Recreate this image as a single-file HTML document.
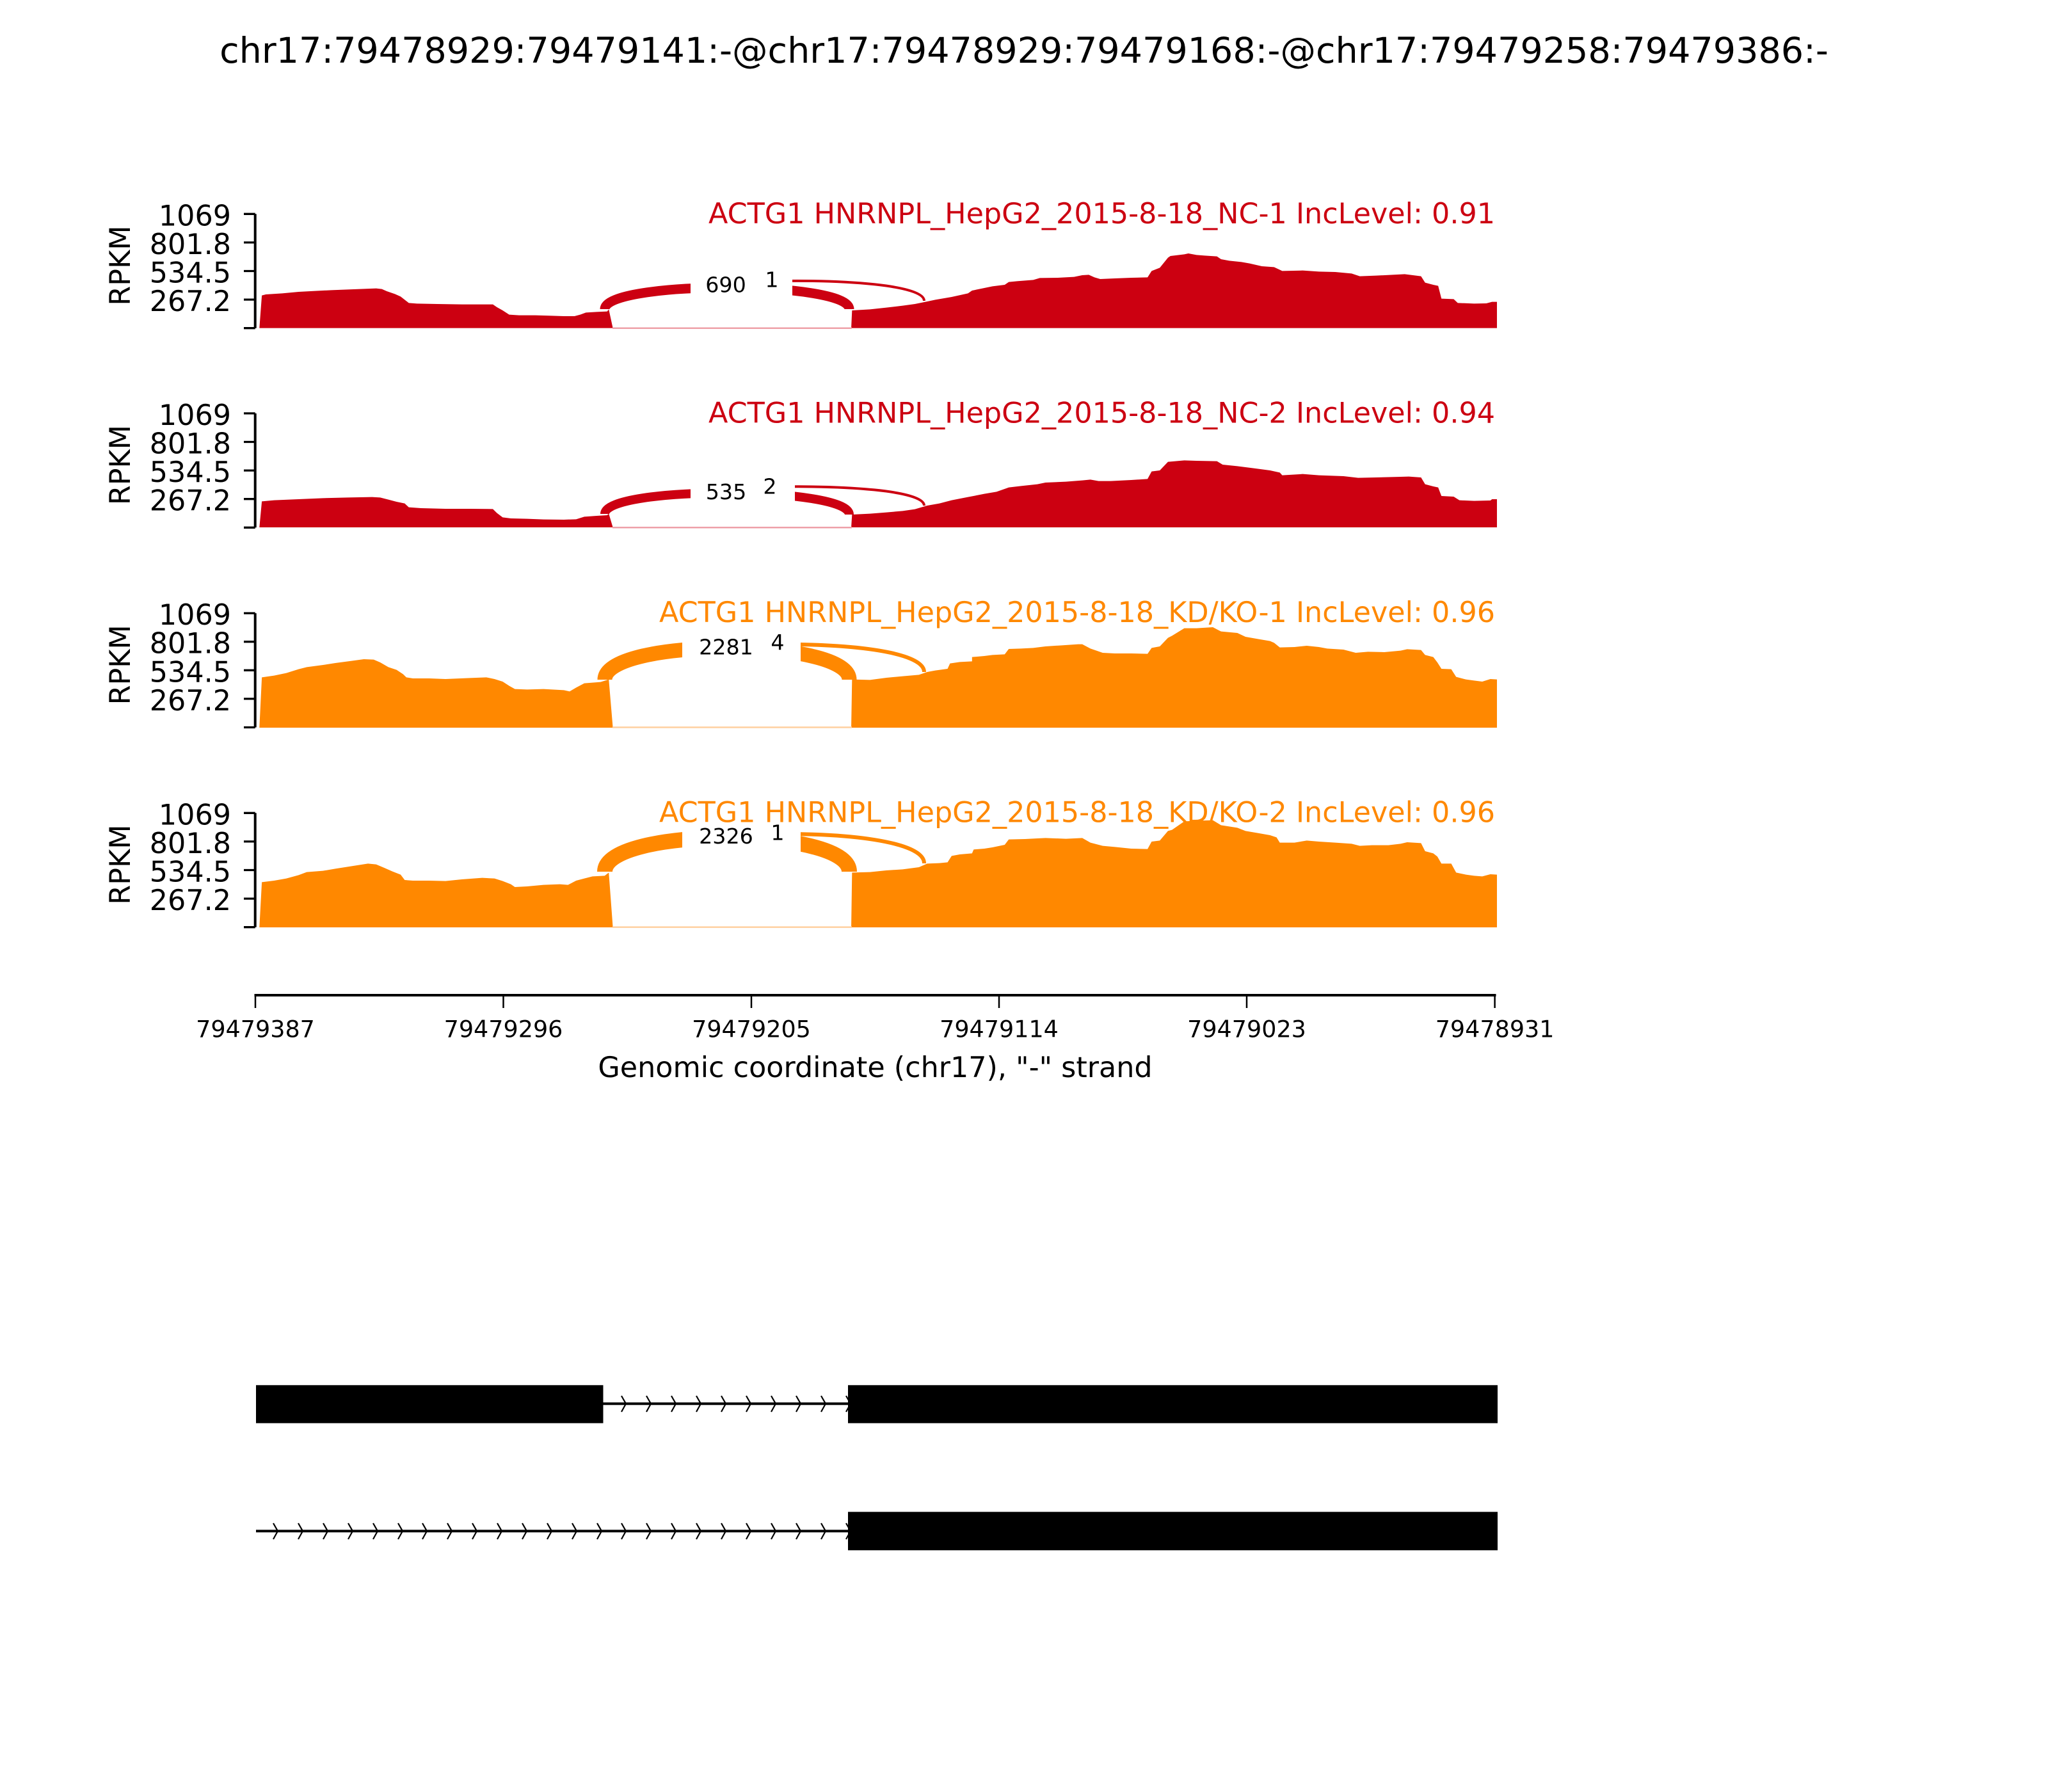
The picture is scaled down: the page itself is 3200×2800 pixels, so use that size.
<!DOCTYPE html>
<html><head><meta charset="utf-8"><style>
html,body{margin:0;padding:0;background:#fff;}
svg{display:block;}
text{font-family:"DejaVu Sans","Liberation Sans",sans-serif;}
</style></head><body>
<svg xmlns="http://www.w3.org/2000/svg" width="3200" height="2800" viewBox="0 0 3200 2800">
<rect width="3200" height="2800" fill="#fff"/>
<text x="1600" y="98" font-size="55.56" text-anchor="middle" fill="#000">chr17:79478929:79479141:-@chr17:79478929:79479168:-@chr17:79479258:79479386:-</text>

<!-- ============ PANEL 1 ============ -->
<g transform="translate(390,310) scale(1.27551,0.33333)" fill="#CC0011">
<polygon points="12,608 15,455 20,450 40,445 60,438 80,434 100,430 120,427 140,424 155,422 162,425 168,435 178,448 185,460 190,475 195,490 205,493 230,495 260,497 298,497 303,510 310,525 318,545 330,548 350,548 370,550 385,552 398,552 405,545 412,535 425,532 438,530 440,520 445,608"/>
<polygon points="737,608 738,525 760,520 780,512 800,503 815,495 828,485 840,475 860,462 880,445 885,432 900,420 910,412 925,405 930,392 940,388 960,382 968,373 990,372 1010,368 1020,360 1028,358 1035,370 1042,378 1060,375 1080,372 1100,370 1105,340 1115,325 1125,278 1128,270 1145,262 1150,258 1160,265 1170,268 1185,272 1190,285 1200,292 1215,298 1225,305 1240,318 1255,322 1265,340 1290,338 1310,343 1330,345 1350,352 1360,365 1380,362 1400,358 1415,355 1425,360 1435,365 1440,395 1450,405 1456,410 1460,470 1475,472 1480,490 1500,493 1515,492 1522,485 1528,485 1528,608"/>
</g>
<rect x="957" y="511.5" width="374" height="2.5" fill="#eea0a8"/>
<path d="M945,483 C945,433.7 1444,420.7 1444,470" fill="none" stroke="#CC0011" stroke-width="4"/>
<path d="M945,483 C945,438.2 1327,438.2 1327,483" fill="none" stroke="#CC0011" stroke-width="15"/>
<rect x="1079" y="415" width="159" height="55" fill="#fff"/>
<text x="1134" y="456.7" font-size="33.3" text-anchor="middle">690</text>
<text x="1206" y="448.3" font-size="33.3" text-anchor="middle">1</text>
<text x="2336" y="349" font-size="44.44" text-anchor="end" fill="#CC0011">ACTG1 HNRNPL_HepG2_2015-8-18_NC-1 IncLevel: 0.91</text>
<g stroke="#000" fill="none">
<line x1="398.7" y1="334.3" x2="398.7" y2="512.7" stroke-width="4"/>
<path d="M381,334.3H398.7M381,378.9H398.7M381,423.5H398.7M381,468.1H398.7M381,512.7H398.7" stroke-width="3.3"/>
</g>
<g font-size="44.44" text-anchor="end">
<text x="361" y="352.3">1069</text><text x="361" y="396.9">801.8</text><text x="361" y="441.5">534.5</text><text x="361" y="486.1">267.2</text>
</g>
<text transform="translate(203,415) rotate(-90)" font-size="44.44" text-anchor="middle">RPKM</text>

<!-- ============ PANEL 2 ============ -->
<g transform="translate(390,620) scale(1.27551,0.33333)" fill="#CC0011">
<polygon points="12,612 15,490 30,485 60,480 90,475 120,472 150,470 160,472 170,482 180,492 190,500 195,518 210,522 240,525 270,525 298,526 303,545 310,565 320,570 340,572 360,575 385,576 400,574 410,562 425,558 438,555 440,548 445,612"/>
<polygon points="737,612 738,552 760,548 780,542 800,535 815,527 830,510 845,500 860,485 880,470 900,455 915,445 930,425 945,418 965,410 975,402 1000,398 1020,392 1030,388 1040,395 1055,395 1080,390 1100,385 1105,350 1115,345 1125,305 1145,298 1160,300 1185,302 1192,318 1210,325 1230,335 1250,345 1262,355 1265,368 1290,362 1310,368 1340,372 1358,380 1380,378 1410,375 1420,374 1435,378 1440,410 1450,420 1456,425 1460,465 1475,468 1482,485 1500,488 1520,486 1522,480 1528,480 1528,612"/>
</g>
<rect x="957" y="823" width="374" height="2.5" fill="#eea0a8"/>
<path d="M945,803 C945,755.7 1444,742.7 1444,790" fill="none" stroke="#CC0011" stroke-width="4"/>
<path d="M945,803 C945,758.6 1327,759.6 1327,804" fill="none" stroke="#CC0011" stroke-width="14"/>
<rect x="1079" y="735" width="163" height="58" fill="#fff"/>
<text x="1134.5" y="780" font-size="33.3" text-anchor="middle">535</text>
<text x="1203" y="771.7" font-size="33.3" text-anchor="middle">2</text>
<text x="2336" y="660.7" font-size="44.44" text-anchor="end" fill="#CC0011">ACTG1 HNRNPL_HepG2_2015-8-18_NC-2 IncLevel: 0.94</text>
<g stroke="#000" fill="none">
<line x1="398.7" y1="645.9" x2="398.7" y2="824.3" stroke-width="4"/>
<path d="M381,645.9H398.7M381,690.5H398.7M381,735.1H398.7M381,779.7H398.7M381,824.3H398.7" stroke-width="3.3"/>
</g>
<g font-size="44.44" text-anchor="end">
<text x="361" y="663.9">1069</text><text x="361" y="708.5">801.8</text><text x="361" y="753.1">534.5</text><text x="361" y="797.7">267.2</text>
</g>
<text transform="translate(203,726.6) rotate(-90)" font-size="44.44" text-anchor="middle">RPKM</text>

<!-- ============ PANEL 3 ============ -->
<g transform="translate(390,935) scale(1.27551,0.33333)" fill="#FF8800">
<polygon points="12,606 15,370 30,362 45,350 60,332 70,322 90,312 105,303 125,293 140,285 152,287 160,300 170,322 180,335 188,355 192,370 200,375 220,375 240,378 270,373 290,370 300,378 310,390 318,410 325,425 340,427 360,425 385,430 392,436 400,418 410,398 420,395 430,392 440,380 445,606"/>
<polygon points="737,606 738,380 760,382 780,372 800,365 820,358 830,345 840,338 855,330 858,305 870,298 885,295 885,275 900,270 910,265 925,262 930,237 945,235 960,232 975,225 995,220 1015,215 1020,215 1030,235 1045,255 1060,258 1080,258 1100,260 1105,232 1115,225 1125,185 1130,175 1145,140 1160,140 1180,135 1190,155 1210,162 1220,180 1235,190 1250,200 1255,208 1262,230 1280,228 1295,222 1310,228 1320,235 1340,240 1355,255 1370,250 1390,252 1410,245 1418,238 1435,242 1440,265 1450,275 1455,300 1460,330 1472,332 1478,368 1490,380 1500,385 1510,390 1520,378 1528,380 1528,606"/>
</g>
<rect x="957" y="1135.2" width="374" height="2.5" fill="#ffd0a0"/>
<path d="M945,1062 C945,997 1444,985 1444,1050" fill="none" stroke="#FF8800" stroke-width="6"/>
<path d="M945,1062 C945,996 1327,996 1327,1062" fill="none" stroke="#FF8800" stroke-width="23"/>
<rect x="1066" y="977" width="185" height="62" fill="#fff"/>
<text x="1134.5" y="1022.3" font-size="33.3" text-anchor="middle">2281</text>
<text x="1215" y="1015" font-size="33.3" text-anchor="middle">4</text>
<text x="2336" y="972" font-size="44.44" text-anchor="end" fill="#FF8800">ACTG1 HNRNPL_HepG2_2015-8-18_KD/KO-1 IncLevel: 0.96</text>
<g stroke="#000" fill="none">
<line x1="398.7" y1="958.1" x2="398.7" y2="1136.5" stroke-width="4"/>
<path d="M381,958.1H398.7M381,1002.7H398.7M381,1047.3H398.7M381,1091.9H398.7M381,1136.5H398.7" stroke-width="3.3"/>
</g>
<g font-size="44.44" text-anchor="end">
<text x="361" y="976.1">1069</text><text x="361" y="1020.7">801.8</text><text x="361" y="1065.3">534.5</text><text x="361" y="1109.9">267.2</text>
</g>
<text transform="translate(203,1038.8) rotate(-90)" font-size="44.44" text-anchor="middle">RPKM</text>

<!-- ============ PANEL 4 ============ -->
<g transform="translate(390,1250) scale(1.27551,0.33333)" fill="#FF8800">
<polygon points="12,597 15,385 30,378 45,368 60,352 70,338 90,332 105,322 125,310 145,298 155,302 165,318 175,335 185,350 190,375 200,378 220,378 240,380 260,372 285,365 300,368 310,380 320,395 325,408 340,405 360,398 380,395 390,398 400,378 410,368 420,358 435,355 440,340 445,597"/>
<polygon points="737,597 738,340 760,338 780,330 800,325 820,315 830,298 845,296 855,292 860,262 870,255 885,250 887,232 900,228 910,222 925,210 930,185 950,183 965,180 975,178 1000,182 1020,178 1030,200 1045,215 1060,220 1080,228 1100,230 1105,195 1115,190 1125,145 1130,140 1145,100 1160,97 1180,95 1190,118 1210,130 1220,145 1235,155 1250,165 1258,175 1262,200 1280,200 1295,190 1310,195 1330,200 1350,205 1360,215 1375,212 1395,212 1410,205 1418,198 1435,202 1440,240 1450,250 1455,265 1460,298 1472,298 1478,340 1490,350 1500,355 1510,358 1520,348 1528,350 1528,597"/>
</g>
<rect x="957" y="1447.4" width="374" height="2.5" fill="#ffd0a0"/>
<path d="M945,1362 C945,1292.7 1444,1279.7 1444,1349" fill="none" stroke="#FF8800" stroke-width="6"/>
<path d="M945,1362 C945,1291.2 1327,1291.2 1327,1362" fill="none" stroke="#FF8800" stroke-width="24"/>
<rect x="1066" y="1273" width="185" height="62" fill="#fff"/>
<text x="1134.5" y="1318" font-size="33.3" text-anchor="middle">2326</text>
<text x="1215" y="1312.7" font-size="33.3" text-anchor="middle">1</text>
<text x="2336" y="1284.5" font-size="44.44" text-anchor="end" fill="#FF8800">ACTG1 HNRNPL_HepG2_2015-8-18_KD/KO-2 IncLevel: 0.96</text>
<g stroke="#000" fill="none">
<line x1="398.7" y1="1270.3" x2="398.7" y2="1448.7" stroke-width="4"/>
<path d="M381,1270.3H398.7M381,1314.9H398.7M381,1359.5H398.7M381,1404.1H398.7M381,1448.7H398.7" stroke-width="3.3"/>
</g>
<g font-size="44.44" text-anchor="end">
<text x="361" y="1288.3">1069</text><text x="361" y="1332.9">801.8</text><text x="361" y="1377.5">534.5</text><text x="361" y="1422.1">267.2</text>
</g>
<text transform="translate(203,1351) rotate(-90)" font-size="44.44" text-anchor="middle">RPKM</text>

<!-- ============ X AXIS ============ -->
<g stroke="#000" fill="none">
<line x1="397.5" y1="1555" x2="2337.5" y2="1555" stroke-width="4"/>
<path d="M399,1555V1575M786.5,1555V1575M1174,1555V1575M1561,1555V1575M1948,1555V1575M2335.6,1555V1575" stroke-width="2.5"/>
</g>
<g font-size="36.5" text-anchor="middle">
<text x="399" y="1620.7">79479387</text>
<text x="786.5" y="1620.7">79479296</text>
<text x="1174" y="1620.7">79479205</text>
<text x="1561" y="1620.7">79479114</text>
<text x="1948" y="1620.7">79479023</text>
<text x="2335.6" y="1620.7">79478931</text>
</g>
<text x="1367.5" y="1683" font-size="44.44" text-anchor="middle">Genomic coordinate (chr17), "-" strand</text>

<!-- ============ GENE MODEL ============ -->
<g fill="#000">
<rect x="942" y="2191.3" width="385" height="4"/>
<rect x="400" y="2164.3" width="542.5" height="59.4"/>
<rect x="1325" y="2164.3" width="1015" height="59.4"/>
<rect x="400" y="2390.3" width="927" height="4"/>
<rect x="1325" y="2362.3" width="1015" height="60"/>
</g>
<g stroke="#000" stroke-width="2.2" fill="none">
<path d="M971,2181 L978,2193.3 L971,2206 M1010,2181 L1017,2193.3 L1010,2206 M1049,2181 L1056,2193.3 L1049,2206 M1088,2181 L1095,2193.3 L1088,2206 M1127,2181 L1134,2193.3 L1127,2206 M1166,2181 L1173,2193.3 L1166,2206 M1205,2181 L1212,2193.3 L1205,2206 M1244,2181 L1251,2193.3 L1244,2206 M1283,2181 L1290,2193.3 L1283,2206 M1322,2181 L1329,2193.3 L1322,2206"/>
<path d="M427,2380 L434,2392.3 L427,2405 M466,2380 L473,2392.3 L466,2405 M505,2380 L512,2392.3 L505,2405 M544,2380 L551,2392.3 L544,2405 M583,2380 L590,2392.3 L583,2405 M622,2380 L629,2392.3 L622,2405 M660,2380 L667,2392.3 L660,2405 M699,2380 L706,2392.3 L699,2405 M738,2380 L745,2392.3 L738,2405 M777,2380 L784,2392.3 L777,2405 M816,2380 L823,2392.3 L816,2405 M855,2380 L862,2392.3 L855,2405 M894,2380 L901,2392.3 L894,2405 M933,2380 L940,2392.3 L933,2405 M971,2380 L978,2392.3 L971,2405 M1010,2380 L1017,2392.3 L1010,2405 M1049,2380 L1056,2392.3 L1049,2405 M1088,2380 L1095,2392.3 L1088,2405 M1127,2380 L1134,2392.3 L1127,2405 M1166,2380 L1173,2392.3 L1166,2405 M1205,2380 L1212,2392.3 L1205,2405 M1244,2380 L1251,2392.3 L1244,2405 M1283,2380 L1290,2392.3 L1283,2405 M1322,2380 L1329,2392.3 L1322,2405"/>
</g>
</svg>
</body></html>
